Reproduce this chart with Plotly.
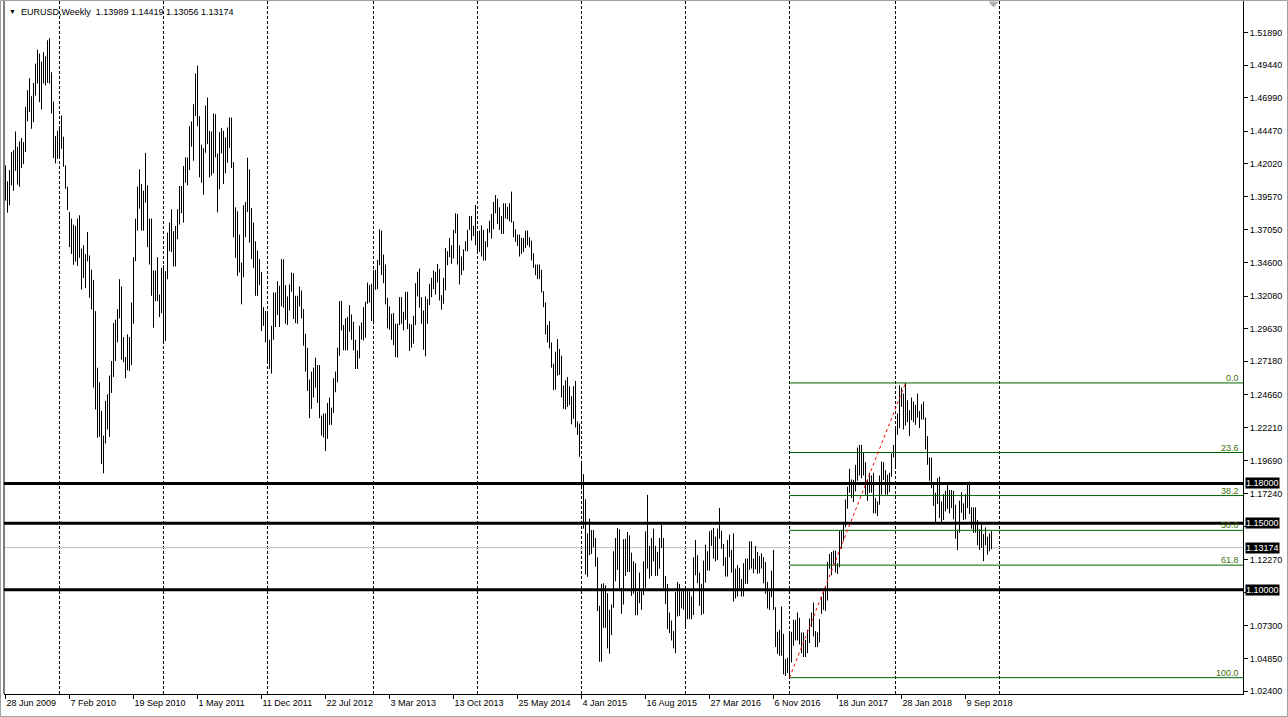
import plotly.graph_objects as go
import pandas as pd

# ---------------- data (weekly bars) ----------------
symbol_title = "EURUSD,Weekly"
last_bar_text = ["1.13989", "1.14419", "1.13056", "1.13174"]
first_week = "2009-06-28"

# (open, high, low, close) per week
ohlc_2009 = [
    (1.4035, 1.4190, 1.3925, 1.3960), (1.3960, 1.4070, 1.3835, 1.3940), (1.3940, 1.4155, 1.3890, 1.4135),
    (1.4135, 1.4290, 1.4040, 1.4180), (1.4180, 1.4305, 1.4000, 1.4255), (1.4255, 1.4445, 1.4150, 1.4185),
    (1.4185, 1.4330, 1.4045, 1.4200), (1.4200, 1.4370, 1.4030, 1.4320), (1.4320, 1.4395, 1.4170, 1.4290),
    (1.4290, 1.4365, 1.4200, 1.4345), (1.4345, 1.4630, 1.4290, 1.4610), (1.4610, 1.4755, 1.4520, 1.4705),
    (1.4705, 1.4845, 1.4590, 1.4690), (1.4690, 1.4710, 1.4465, 1.4595), (1.4595, 1.4810, 1.4515, 1.4720),
    (1.4720, 1.4955, 1.4715, 1.4905), (1.4905, 1.5060, 1.4805, 1.5005), (1.5005, 1.5030, 1.4665, 1.4715),
    (1.4715, 1.4970, 1.4610, 1.4915), (1.4915, 1.5040, 1.4805, 1.4885), (1.4885, 1.5010, 1.4790, 1.4955),
    (1.4955, 1.5130, 1.4810, 1.4975), (1.4975, 1.5145, 1.4805, 1.4850), (1.4850, 1.4890, 1.4580, 1.4620),
    (1.4620, 1.4670, 1.4245, 1.4340), (1.4340, 1.4410, 1.4205, 1.4330), (1.4330, 1.4450, 1.4240, 1.4320),
]
ohlc_2010 = [
    (1.4320, 1.4485, 1.4255, 1.4410), (1.4410, 1.4565, 1.4315, 1.4380), (1.4380, 1.4405, 1.4180, 1.4190),
    (1.4190, 1.4190, 1.4015, 1.4030), (1.4030, 1.4030, 1.3855, 1.3865), (1.3830, 1.3840, 1.3575, 1.3675),
    (1.3675, 1.3790, 1.3525, 1.3620), (1.3620, 1.3745, 1.3443, 1.3615), (1.3615, 1.3735, 1.3468, 1.3630),
    (1.3630, 1.3790, 1.3435, 1.3760), (1.3760, 1.3815, 1.3495, 1.3530), (1.3530, 1.3565, 1.3257, 1.3410),
    (1.3410, 1.3590, 1.3343, 1.3480), (1.3480, 1.3523, 1.3268, 1.3480), (1.3480, 1.3690, 1.3468, 1.3500),
    (1.3500, 1.3513, 1.3195, 1.3390), (1.3390, 1.3406, 1.3106, 1.3295), (1.3295, 1.3330, 1.2520, 1.2755),
    (1.2755, 1.3095, 1.2355, 1.2360), (1.2360, 1.2670, 1.2143, 1.2560), (1.2560, 1.2560, 1.2150, 1.2270),
    (1.2270, 1.2345, 1.1945, 1.1970), (1.1970, 1.2160, 1.1876, 1.2105), (1.2105, 1.2420, 1.2100, 1.2390),
    (1.2390, 1.2470, 1.2205, 1.2360), (1.2360, 1.2610, 1.2150, 1.2560), (1.2560, 1.2720, 1.2480, 1.2640),
    (1.2640, 1.3005, 1.2600, 1.2940), (1.2940, 1.3030, 1.2720, 1.2900), (1.2900, 1.3110, 1.2860, 1.3060),
    (1.3060, 1.3335, 1.3040, 1.3275), (1.3275, 1.3280, 1.2730, 1.2750), (1.2750, 1.2900, 1.2710, 1.2710),
    (1.2710, 1.2750, 1.2590, 1.2750), (1.2750, 1.2920, 1.2650, 1.2890), (1.2890, 1.2900, 1.2645, 1.2710),
    (1.2710, 1.3160, 1.2690, 1.3050), (1.3050, 1.3500, 1.3000, 1.3490), (1.3490, 1.3790, 1.3470, 1.3780),
    (1.3780, 1.4030, 1.3700, 1.3995), (1.3995, 1.4160, 1.3865, 1.3970), (1.3970, 1.4050, 1.3700, 1.3950),
    (1.3950, 1.4000, 1.3700, 1.3935), (1.3935, 1.4283, 1.3910, 1.4030), (1.4030, 1.4040, 1.3575, 1.3690),
    (1.3690, 1.3790, 1.3445, 1.3670), (1.3670, 1.3790, 1.3210, 1.3240), (1.3240, 1.3400, 1.2970, 1.3400),
    (1.3400, 1.3400, 1.3170, 1.3225), (1.3225, 1.3500, 1.3170, 1.3185), (1.3185, 1.3220, 1.3050, 1.3090),
    (1.3090, 1.3420, 1.3080, 1.3380),
]
ohlc_2011 = [
    (1.3380, 1.3440, 1.2860, 1.2905), (1.2905, 1.3395, 1.2870, 1.3380), (1.3380, 1.3685, 1.3335, 1.3615),
    (1.3615, 1.3760, 1.3545, 1.3600), (1.3600, 1.3860, 1.3540, 1.3585), (1.3585, 1.3695, 1.3430, 1.3525),
    (1.3525, 1.3735, 1.3430, 1.3695), (1.3695, 1.3860, 1.3635, 1.3755), (1.3755, 1.4035, 1.3745, 1.3985),
    (1.3985, 1.4035, 1.3830, 1.3905), (1.3905, 1.4185, 1.3760, 1.4180), (1.4180, 1.4250, 1.4060, 1.4090),
    (1.4090, 1.4250, 1.4040, 1.4225), (1.4225, 1.4485, 1.4155, 1.4480), (1.4480, 1.4520, 1.4330, 1.4430),
    (1.4430, 1.4650, 1.4225, 1.4565), (1.4565, 1.4880, 1.4560, 1.4815), (1.4815, 1.4940, 1.4485, 1.4525),
    (1.4525, 1.4560, 1.4100, 1.4115), (1.4115, 1.4345, 1.4060, 1.4150), (1.4150, 1.4320, 1.3970, 1.4315),
    (1.4315, 1.4640, 1.4285, 1.4640), (1.4640, 1.4700, 1.4350, 1.4350), (1.4350, 1.4450, 1.4100, 1.4300),
    (1.4300, 1.4445, 1.4115, 1.4185), (1.4185, 1.4580, 1.4130, 1.4530), (1.4530, 1.4575, 1.4250, 1.4260),
    (1.4260, 1.4280, 1.3837, 1.4145), (1.4145, 1.4440, 1.4010, 1.4390), (1.4390, 1.4470, 1.4280, 1.4390),
    (1.4390, 1.4450, 1.4050, 1.4270), (1.4270, 1.4400, 1.4130, 1.4240), (1.4240, 1.4475, 1.4210, 1.4400),
    (1.4400, 1.4550, 1.4320, 1.4490), (1.4490, 1.4550, 1.4170, 1.4210), (1.4210, 1.4215, 1.3650, 1.3655),
    (1.3655, 1.3875, 1.3495, 1.3790), (1.3790, 1.3845, 1.3360, 1.3500), (1.3500, 1.3670, 1.3385, 1.3385),
    (1.3385, 1.3460, 1.3146, 1.3380), (1.3380, 1.3890, 1.3350, 1.3880), (1.3880, 1.3915, 1.3650, 1.3890),
    (1.3890, 1.4248, 1.3840, 1.4145), (1.4145, 1.4160, 1.3610, 1.3775), (1.3775, 1.3870, 1.3485, 1.3750),
    (1.3750, 1.3760, 1.3420, 1.3525), (1.3525, 1.3620, 1.3210, 1.3240), (1.3240, 1.3550, 1.3210, 1.3440),
    (1.3440, 1.3485, 1.3290, 1.3380), (1.3380, 1.3390, 1.2945, 1.3045), (1.3045, 1.3125, 1.2985, 1.3055),
    (1.3055, 1.3095, 1.2860, 1.2960),
]
ohlc_2012 = [
    (1.2960, 1.3080, 1.2720, 1.2720), (1.2720, 1.2880, 1.2660, 1.2680), (1.2680, 1.2985, 1.2625, 1.2935),
    (1.2935, 1.3235, 1.2880, 1.3210), (1.3210, 1.3235, 1.2975, 1.3155), (1.3155, 1.3320, 1.3065, 1.3195),
    (1.3195, 1.3285, 1.2975, 1.3135), (1.3135, 1.3485, 1.3130, 1.3450), (1.3450, 1.3485, 1.3120, 1.3205),
    (1.3205, 1.3290, 1.3000, 1.3120), (1.3120, 1.3205, 1.2990, 1.3180), (1.3180, 1.3295, 1.3100, 1.3275),
    (1.3275, 1.3385, 1.3240, 1.3340), (1.3340, 1.3380, 1.3035, 1.3140), (1.3140, 1.3210, 1.3005, 1.3075),
    (1.3075, 1.3210, 1.3000, 1.3185), (1.3185, 1.3280, 1.3130, 1.3240), (1.3240, 1.3250, 1.3040, 1.3085),
    (1.3085, 1.3110, 1.2835, 1.2915), (1.2915, 1.2925, 1.2640, 1.2780), (1.2780, 1.2820, 1.2495, 1.2510),
    (1.2510, 1.2580, 1.2290, 1.2420), (1.2420, 1.2640, 1.2360, 1.2635), (1.2635, 1.2670, 1.2445, 1.2640),
    (1.2640, 1.2745, 1.2520, 1.2570), (1.2570, 1.2690, 1.2405, 1.2665), (1.2665, 1.2690, 1.2290, 1.2290),
    (1.2290, 1.2310, 1.2160, 1.2245), (1.2245, 1.2325, 1.2145, 1.2155), (1.2155, 1.2325, 1.2042, 1.2320),
    (1.2320, 1.2405, 1.2135, 1.2385), (1.2385, 1.2445, 1.2240, 1.2290), (1.2290, 1.2370, 1.2240, 1.2335),
    (1.2335, 1.2590, 1.2330, 1.2515), (1.2515, 1.2640, 1.2485, 1.2575), (1.2575, 1.2820, 1.2560, 1.2810),
    (1.2810, 1.3170, 1.2760, 1.3125), (1.3125, 1.3172, 1.2950, 1.2975), (1.2975, 1.2990, 1.2800, 1.2860),
    (1.2860, 1.3040, 1.2800, 1.3035), (1.3035, 1.3050, 1.2800, 1.2950), (1.2950, 1.3140, 1.2940, 1.3020),
    (1.3020, 1.3070, 1.2880, 1.2940), (1.2940, 1.3015, 1.2800, 1.2830), (1.2830, 1.2880, 1.2660, 1.2710),
    (1.2710, 1.2800, 1.2660, 1.2750), (1.2750, 1.2985, 1.2740, 1.2975), (1.2975, 1.3010, 1.2880, 1.2985),
    (1.2985, 1.3125, 1.2875, 1.2925), (1.2925, 1.3165, 1.2895, 1.3165), (1.3165, 1.3310, 1.3150, 1.3190),
    (1.3190, 1.3290, 1.3160, 1.3195), (1.3195, 1.3300, 1.3020, 1.3070),
]
ohlc_2013 = [
    (1.3070, 1.3405, 1.2995, 1.3365), (1.3365, 1.3405, 1.3255, 1.3315), (1.3315, 1.3480, 1.3260, 1.3460),
    (1.3460, 1.3710, 1.3440, 1.3640), (1.3640, 1.3700, 1.3365, 1.3365), (1.3365, 1.3520, 1.3305, 1.3360),
    (1.3360, 1.3445, 1.3145, 1.3190), (1.3190, 1.3195, 1.2965, 1.3020), (1.3020, 1.3130, 1.2955, 1.3005),
    (1.3005, 1.3075, 1.2880, 1.3075), (1.3075, 1.3080, 1.2840, 1.2990), (1.2990, 1.3000, 1.2750, 1.2820),
    (1.2820, 1.3000, 1.2745, 1.2995), (1.2995, 1.3200, 1.2990, 1.3110), (1.3110, 1.3200, 1.3000, 1.3050),
    (1.3050, 1.3090, 1.2950, 1.3030), (1.3030, 1.3240, 1.3030, 1.3115), (1.3115, 1.3240, 1.2960, 1.2990),
    (1.2990, 1.3000, 1.2795, 1.2835), (1.2835, 1.2995, 1.2820, 1.2935), (1.2935, 1.3060, 1.2850, 1.2995),
    (1.2995, 1.3305, 1.2990, 1.3220), (1.3220, 1.3390, 1.3205, 1.3345), (1.3345, 1.3415, 1.3120, 1.3120),
    (1.3120, 1.3200, 1.3000, 1.3010), (1.3010, 1.3100, 1.2805, 1.2830), (1.2830, 1.3205, 1.2755, 1.3065),
    (1.3065, 1.3185, 1.3000, 1.3145), (1.3145, 1.3300, 1.3140, 1.3280), (1.3280, 1.3345, 1.3200, 1.3280),
    (1.3280, 1.3400, 1.3260, 1.3340), (1.3340, 1.3390, 1.3220, 1.3330), (1.3330, 1.3450, 1.3310, 1.3380),
    (1.3380, 1.3410, 1.3175, 1.3205), (1.3205, 1.3215, 1.3105, 1.3170), (1.3170, 1.3345, 1.3150, 1.3300),
    (1.3300, 1.3570, 1.3250, 1.3525), (1.3525, 1.3545, 1.3440, 1.3525), (1.3525, 1.3645, 1.3500, 1.3555),
    (1.3555, 1.3590, 1.3450, 1.3550), (1.3550, 1.3705, 1.3490, 1.3685), (1.3685, 1.3830, 1.3680, 1.3800),
    (1.3800, 1.3825, 1.3445, 1.3485), (1.3485, 1.3590, 1.3295, 1.3365), (1.3365, 1.3505, 1.3365, 1.3495),
    (1.3495, 1.3560, 1.3400, 1.3555), (1.3555, 1.3620, 1.3545, 1.3590), (1.3590, 1.3705, 1.3545, 1.3705),
    (1.3705, 1.3810, 1.3705, 1.3745), (1.3745, 1.3810, 1.3625, 1.3675), (1.3675, 1.3735, 1.3660, 1.3690),
    (1.3690, 1.3893, 1.3590, 1.3590),
]
ohlc_2014 = [
    (1.3590, 1.3690, 1.3525, 1.3670), (1.3670, 1.3700, 1.3540, 1.3540), (1.3540, 1.3740, 1.3505, 1.3680),
    (1.3680, 1.3705, 1.3475, 1.3485), (1.3485, 1.3620, 1.3475, 1.3610), (1.3610, 1.3715, 1.3575, 1.3695),
    (1.3695, 1.3775, 1.3685, 1.3740), (1.3740, 1.3825, 1.3640, 1.3805), (1.3805, 1.3915, 1.3710, 1.3875),
    (1.3875, 1.3967, 1.3830, 1.3910), (1.3910, 1.3940, 1.3750, 1.3790), (1.3790, 1.3875, 1.3705, 1.3750),
    (1.3750, 1.3810, 1.3675, 1.3705), (1.3705, 1.3905, 1.3675, 1.3885), (1.3885, 1.3905, 1.3790, 1.3815),
    (1.3815, 1.3880, 1.3785, 1.3830), (1.3830, 1.3905, 1.3770, 1.3870), (1.3870, 1.3993, 1.3760, 1.3760),
    (1.3760, 1.3770, 1.3650, 1.3695), (1.3695, 1.3710, 1.3615, 1.3630), (1.3630, 1.3670, 1.3585, 1.3635),
    (1.3635, 1.3670, 1.3505, 1.3640), (1.3640, 1.3645, 1.3525, 1.3545), (1.3545, 1.3645, 1.3540, 1.3610),
    (1.3610, 1.3700, 1.3570, 1.3645), (1.3645, 1.3700, 1.3590, 1.3595), (1.3595, 1.3650, 1.3575, 1.3605),
    (1.3605, 1.3625, 1.3475, 1.3525), (1.3525, 1.3530, 1.3420, 1.3430), (1.3430, 1.3445, 1.3365, 1.3415),
    (1.3415, 1.3445, 1.3335, 1.3410), (1.3410, 1.3445, 1.3335, 1.3400), (1.3400, 1.3405, 1.3235, 1.3240),
    (1.3240, 1.3245, 1.3125, 1.3130), (1.3130, 1.3160, 1.2920, 1.2950), (1.2950, 1.2990, 1.2860, 1.2965),
    (1.2965, 1.3020, 1.2815, 1.2830), (1.2830, 1.2860, 1.2670, 1.2685), (1.2685, 1.2700, 1.2500, 1.2515),
    (1.2515, 1.2790, 1.2505, 1.2625), (1.2625, 1.2885, 1.2610, 1.2760), (1.2760, 1.2810, 1.2615, 1.2670),
    (1.2670, 1.2760, 1.2445, 1.2525), (1.2525, 1.2535, 1.2360, 1.2450), (1.2450, 1.2575, 1.2355, 1.2525),
    (1.2525, 1.2600, 1.2375, 1.2390), (1.2390, 1.2530, 1.2390, 1.2450), (1.2450, 1.2455, 1.2245, 1.2285),
    (1.2285, 1.2530, 1.2285, 1.2465), (1.2465, 1.2570, 1.2220, 1.2230), (1.2230, 1.2265, 1.2165, 1.2175),
    (1.2175, 1.2250, 1.2000, 1.2000),
]
ohlc_2015 = [
    (1.1955, 1.1970, 1.1755, 1.1840), (1.1840, 1.1870, 1.1460, 1.1565), (1.1565, 1.1680, 1.1115, 1.1205),
    (1.1205, 1.1425, 1.1098, 1.1290), (1.1290, 1.1535, 1.1260, 1.1315), (1.1315, 1.1450, 1.1270, 1.1385),
    (1.1385, 1.1450, 1.1320, 1.1380), (1.1380, 1.1390, 1.1175, 1.1195), (1.1195, 1.1245, 1.0840, 1.0840),
    (1.0840, 1.0880, 1.0460, 1.0495), (1.0495, 1.1045, 1.0460, 1.0825), (1.0825, 1.1050, 1.0715, 1.0890),
    (1.0890, 1.1035, 1.0715, 1.0970), (1.0970, 1.0975, 1.0560, 1.0600), (1.0600, 1.0850, 1.0520, 1.0805),
    (1.0805, 1.0890, 1.0660, 1.0870), (1.0870, 1.1290, 1.0865, 1.1200), (1.1200, 1.1390, 1.1065, 1.1200),
    (1.1200, 1.1465, 1.1150, 1.1450), (1.1450, 1.1455, 1.1010, 1.1010), (1.1010, 1.1015, 1.0820, 1.0985),
    (1.0985, 1.1380, 1.0890, 1.1110), (1.1110, 1.1385, 1.1105, 1.1265), (1.1265, 1.1435, 1.1135, 1.1350),
    (1.1350, 1.1410, 1.1135, 1.1165), (1.1165, 1.1280, 1.0955, 1.1110), (1.1110, 1.1215, 1.0970, 1.1165),
    (1.1165, 1.1200, 1.0810, 1.0830), (1.0830, 1.0985, 1.0810, 1.0980), (1.0980, 1.1130, 1.0900, 1.0985),
    (1.0985, 1.0990, 1.0850, 1.0970), (1.0970, 1.1215, 1.0960, 1.1105), (1.1105, 1.1440, 1.1015, 1.1385),
    (1.1385, 1.1714, 1.1160, 1.1185), (1.1185, 1.1330, 1.1085, 1.1150), (1.1150, 1.1390, 1.1105, 1.1340),
    (1.1340, 1.1460, 1.1215, 1.1295), (1.1295, 1.1330, 1.1105, 1.1195), (1.1195, 1.1285, 1.1105, 1.1210),
    (1.1210, 1.1390, 1.1160, 1.1355), (1.1355, 1.1495, 1.1315, 1.1350), (1.1350, 1.1390, 1.1015, 1.1015),
    (1.1015, 1.1105, 1.0895, 1.1005), (1.1005, 1.1045, 1.0705, 1.0740), (1.0740, 1.0830, 1.0675, 1.0770),
    (1.0770, 1.0770, 1.0620, 1.0645), (1.0645, 1.0690, 1.0560, 1.0595), (1.0595, 1.0985, 1.0524, 1.0885),
    (1.0885, 1.1060, 1.0800, 1.0990), (1.0990, 1.1045, 1.0805, 1.0865), (1.0865, 1.0990, 1.0860, 1.0965),
    (1.0965, 1.0995, 1.0850, 1.0865),
]
ohlc_2016 = [
    (1.0865, 1.0970, 1.0710, 1.0920), (1.0920, 1.0990, 1.0780, 1.0915), (1.0915, 1.0990, 1.0780, 1.0795),
    (1.0795, 1.0950, 1.0780, 1.0830), (1.0830, 1.1245, 1.0810, 1.1155), (1.1155, 1.1375, 1.1110, 1.1255),
    (1.1255, 1.1260, 1.1050, 1.1130), (1.1130, 1.1130, 1.0880, 1.0935), (1.0935, 1.1045, 1.0810, 1.1005),
    (1.1005, 1.1220, 1.0820, 1.1145), (1.1145, 1.1340, 1.1055, 1.1265), (1.1265, 1.1290, 1.1145, 1.1165),
    (1.1165, 1.1440, 1.1145, 1.1390), (1.1390, 1.1450, 1.1330, 1.1400), (1.1400, 1.1465, 1.1235, 1.1285),
    (1.1285, 1.1400, 1.1215, 1.1225), (1.1225, 1.1460, 1.1225, 1.1455), (1.1455, 1.1616, 1.1385, 1.1400),
    (1.1400, 1.1445, 1.1310, 1.1310), (1.1310, 1.1345, 1.1180, 1.1225), (1.1225, 1.1245, 1.1100, 1.1130),
    (1.1130, 1.1375, 1.1100, 1.1365), (1.1365, 1.1415, 1.1245, 1.1250), (1.1250, 1.1300, 1.1130, 1.1275),
    (1.1275, 1.1425, 1.0912, 1.1120), (1.1120, 1.1160, 1.0935, 1.1140), (1.1140, 1.1185, 1.0950, 1.1055),
    (1.1055, 1.1165, 1.1010, 1.1040), (1.1040, 1.1080, 1.0950, 1.0975), (1.0975, 1.1200, 1.0950, 1.1175),
    (1.1175, 1.1235, 1.1045, 1.1085), (1.1085, 1.1235, 1.1045, 1.1160), (1.1160, 1.1365, 1.1150, 1.1325),
    (1.1325, 1.1365, 1.1160, 1.1200), (1.1200, 1.1235, 1.1125, 1.1155), (1.1155, 1.1330, 1.1155, 1.1235),
    (1.1235, 1.1285, 1.1120, 1.1155), (1.1155, 1.1255, 1.1125, 1.1225), (1.1225, 1.1275, 1.1160, 1.1240),
    (1.1240, 1.1245, 1.1050, 1.1200), (1.1200, 1.1210, 1.0970, 1.0970), (1.0970, 1.1060, 1.0860, 1.0880),
    (1.0880, 1.0990, 1.0850, 1.0985), (1.0985, 1.1145, 1.0945, 1.1140), (1.1140, 1.1300, 1.0850, 1.0850),
    (1.0850, 1.0870, 1.0570, 1.0590), (1.0590, 1.0685, 1.0520, 1.0590), (1.0590, 1.0700, 1.0505, 1.0665),
    (1.0665, 1.0875, 1.0505, 1.0560), (1.0560, 1.0670, 1.0365, 1.0450), (1.0450, 1.0480, 1.0352, 1.0455),
    (1.0455, 1.0490, 1.0375, 1.0465),
]
ohlc_2017 = [
    (1.0465, 1.0685, 1.0340, 1.0530), (1.0530, 1.0685, 1.0455, 1.0645), (1.0645, 1.0775, 1.0580, 1.0700),
    (1.0700, 1.0775, 1.0620, 1.0695), (1.0695, 1.0830, 1.0620, 1.0785), (1.0785, 1.0790, 1.0590, 1.0640),
    (1.0640, 1.0680, 1.0525, 1.0615), (1.0615, 1.0680, 1.0495, 1.0560), (1.0560, 1.0625, 1.0495, 1.0620),
    (1.0620, 1.0700, 1.0525, 1.0670), (1.0670, 1.0785, 1.0600, 1.0740), (1.0740, 1.0830, 1.0720, 1.0800),
    (1.0800, 1.0905, 1.0650, 1.0650), (1.0650, 1.0690, 1.0570, 1.0595), (1.0595, 1.0680, 1.0570, 1.0615),
    (1.0615, 1.0780, 1.0605, 1.0725), (1.0860, 1.0950, 1.0820, 1.0895), (1.0895, 1.1000, 1.0850, 1.0995),
    (1.0995, 1.1020, 1.0840, 1.0930), (1.0930, 1.1210, 1.0920, 1.1205), (1.1205, 1.1270, 1.1160, 1.1180),
    (1.1180, 1.1285, 1.1110, 1.1280), (1.1280, 1.1295, 1.1195, 1.1195), (1.1195, 1.1295, 1.1130, 1.1195),
    (1.1195, 1.1200, 1.1120, 1.1195), (1.1195, 1.1445, 1.1170, 1.1425), (1.1425, 1.1450, 1.1310, 1.1400),
    (1.1400, 1.1490, 1.1370, 1.1470), (1.1470, 1.1680, 1.1470, 1.1665), (1.1665, 1.1775, 1.1610, 1.1750),
    (1.1750, 1.1910, 1.1730, 1.1775), (1.1775, 1.1830, 1.1690, 1.1820), (1.1820, 1.1825, 1.1660, 1.1760),
    (1.1760, 1.1940, 1.1740, 1.1925), (1.1925, 1.2070, 1.1820, 1.1860), (1.1860, 1.2090, 1.1860, 1.2035),
    (1.2035, 1.2090, 1.1840, 1.1940), (1.1940, 1.2035, 1.1860, 1.1950), (1.1950, 1.1960, 1.1715, 1.1815),
    (1.1815, 1.1830, 1.1670, 1.1730), (1.1730, 1.1880, 1.1730, 1.1820), (1.1820, 1.1860, 1.1730, 1.1785),
    (1.1785, 1.1880, 1.1575, 1.1605), (1.1605, 1.1690, 1.1575, 1.1610), (1.1610, 1.1665, 1.1555, 1.1665),
    (1.1665, 1.1860, 1.1640, 1.1795), (1.1795, 1.1965, 1.1715, 1.1930), (1.1930, 1.1960, 1.1825, 1.1895),
    (1.1895, 1.1900, 1.1715, 1.1775), (1.1775, 1.1865, 1.1715, 1.1750), (1.1750, 1.1880, 1.1735, 1.1865),
    (1.1865, 1.2025, 1.1850, 1.2005), (1.2005, 1.2090, 1.1995, 1.2030),
]
ohlc_2018 = [
    (1.2030, 1.2215, 1.1915, 1.2200), (1.2200, 1.2325, 1.2165, 1.2220), (1.2220, 1.2537, 1.2215, 1.2425),
    (1.2425, 1.2520, 1.2375, 1.2460), (1.2460, 1.2475, 1.2205, 1.2250), (1.2250, 1.2555, 1.2235, 1.2405),
    (1.2405, 1.2425, 1.2260, 1.2295), (1.2295, 1.2350, 1.2155, 1.2315), (1.2315, 1.2445, 1.2275, 1.2310),
    (1.2310, 1.2415, 1.2260, 1.2285), (1.2285, 1.2390, 1.2240, 1.2355), (1.2355, 1.2475, 1.2295, 1.2320),
    (1.2320, 1.2345, 1.2215, 1.2280), (1.2280, 1.2395, 1.2280, 1.2330), (1.2330, 1.2415, 1.2280, 1.2290),
    (1.2290, 1.2295, 1.2055, 1.2130), (1.2130, 1.2155, 1.1940, 1.1960), (1.1960, 1.1995, 1.1820, 1.1940),
    (1.1940, 1.1995, 1.1765, 1.1770), (1.1770, 1.1790, 1.1630, 1.1655), (1.1655, 1.1730, 1.1510, 1.1660),
    (1.1660, 1.1840, 1.1645, 1.1770), (1.1770, 1.1850, 1.1540, 1.1610), (1.1610, 1.1665, 1.1510, 1.1655),
    (1.1655, 1.1720, 1.1525, 1.1685), (1.1685, 1.1745, 1.1590, 1.1745), (1.1745, 1.1790, 1.1610, 1.1685),
    (1.1685, 1.1750, 1.1575, 1.1720), (1.1720, 1.1750, 1.1615, 1.1655), (1.1655, 1.1745, 1.1530, 1.1565),
    (1.1565, 1.1640, 1.1385, 1.1410), (1.1410, 1.1445, 1.1300, 1.1440), (1.1440, 1.1670, 1.1430, 1.1620),
    (1.1620, 1.1735, 1.1580, 1.1600), (1.1600, 1.1650, 1.1525, 1.1550), (1.1550, 1.1720, 1.1530, 1.1625),
    (1.1625, 1.1790, 1.1615, 1.1745), (1.1745, 1.1815, 1.1570, 1.1605), (1.1605, 1.1620, 1.1460, 1.1525),
    (1.1525, 1.1620, 1.1430, 1.1560), (1.1560, 1.1620, 1.1430, 1.1510), (1.1510, 1.1525, 1.1335, 1.1400),
    (1.1400, 1.1455, 1.1300, 1.1390), (1.1390, 1.1500, 1.1315, 1.1335), (1.1335, 1.1420, 1.1216, 1.1415),
    (1.1415, 1.1470, 1.1335, 1.1340), (1.1340, 1.1400, 1.1265, 1.1315), (1.1315, 1.1425, 1.1290, 1.1380),
    (1.13989, 1.14419, 1.13056, 1.13174),
]

x_tick_labels = ["28 Jun 2009", "7 Feb 2010", "19 Sep 2010", "1 May 2011", "11 Dec 2011", "22 Jul 2012",
                 "3 Mar 2013", "13 Oct 2013", "25 May 2014", "4 Jan 2015", "16 Aug 2015", "27 Mar 2016",
                 "6 Nov 2016", "18 Jun 2017", "28 Jan 2018", "9 Sep 2018"]
year_starts = ["2010-01-03", "2011-01-02", "2012-01-01", "2013-01-06", "2014-01-05", "2015-01-04",
               "2016-01-03", "2017-01-01", "2018-01-07", "2019-01-06"]
y_tick_values = [1.51890, 1.49440, 1.46990, 1.44470, 1.42020, 1.39570, 1.37050, 1.34600, 1.32080,
                 1.29630, 1.27180, 1.24660, 1.22210, 1.19690, 1.17240, 1.14790, 1.12270, 1.09820,
                 1.07300, 1.04850, 1.02400]
# tick labels hidden behind the level boxes on the price scale
y_ticks_covered = [1.14790, 1.09820]
horizontal_levels = [1.18000, 1.15000, 1.10000]
current_price = 1.13174
fib_low_date, fib_low = "2017-01-01", 1.0340
fib_high_date, fib_high = "2018-02-11", 1.2555
fib_ratios = [0.0, 0.236, 0.382, 0.5, 0.618, 1.0]
fib_texts = ["0.0", "23.6", "38.2", "50.0", "61.8", "100.0"]

# ---------------- figure ----------------
rows = (ohlc_2009 + ohlc_2010 + ohlc_2011 + ohlc_2012 + ohlc_2013 + ohlc_2014 +
        ohlc_2015 + ohlc_2016 + ohlc_2017 + ohlc_2018)
dates = pd.date_range(first_week, periods=len(rows), freq="7D")

W, H = 1288, 717
ML, MR, MT, MB = 4, 45, 0, 23
PW, PH = W - ML - MR, H - MT - MB

t0 = pd.Timestamp(first_week) - pd.Timedelta(hours=126)      # 1.5 px before first bar
t1 = t0 + pd.Timedelta(hours=84 * PW)                          # 3.5 days per px
x_range = [str(t0), str(t1)]
y_range = [1.02175, 1.54329]

FONT = "Tahoma, 'Liberation Sans', Arial, sans-serif"


def px_x(p):
    return (p - ML) / PW


def px_y(p):
    return (H - MB - p) / PH


fig = go.Figure()
fig.add_trace(go.Ohlc(
    x=dates,
    open=[r[0] for r in rows], high=[r[1] for r in rows],
    low=[r[2] for r in rows], close=[r[3] for r in rows],
    increasing=dict(line=dict(color="black", width=1)),
    decreasing=dict(line=dict(color="black", width=1)),
    tickwidth=0, hoverinfo="skip", showlegend=False,
))

shapes = []
for d in year_starts:
    shapes.append(dict(type="line", xref="x", yref="paper", x0=d, x1=d, y0=0, y1=1,
                       line=dict(color="black", width=1, dash="3px,2px"), layer="below"))
shapes.append(dict(type="line", xref="paper", yref="y", x0=0, x1=1, y0=current_price, y1=current_price,
                   line=dict(color="#C0C0C0", width=1), layer="below"))
for lv in horizontal_levels:
    shapes.append(dict(type="line", xref="paper", yref="y", x0=0, x1=1, y0=lv, y1=lv,
                       line=dict(color="black", width=3), layer="above"))
fib_span = fib_high - fib_low
for r in fib_ratios:
    lv = fib_high - r * fib_span
    shapes.append(dict(type="line", xref="x", yref="y", x0=fib_low_date, x1=x_range[1], y0=lv, y1=lv,
                       line=dict(color="#006400", width=1), layer="above"))
shapes.append(dict(type="line", xref="x", yref="y", x0=fib_low_date, x1=fib_high_date,
                   y0=fib_low, y1=fib_high, line=dict(color="red", width=1, dash="3px,3px"), layer="above"))
# chart frame pieces
shapes.append(dict(type="line", xref="paper", yref="paper", x0=0, x1=0, y0=0, y1=1,
                   line=dict(color="black", width=1)))
shapes.append(dict(type="rect", xref="paper", yref="paper",
                   x0=px_x(0.5), x1=px_x(1287.5), y0=px_y(716.5), y1=px_y(0.5),
                   line=dict(color="#A0A0A0", width=1)))
shapes.append(dict(type="path", xref="paper", yref="paper",
                   path=f"M {px_x(989)},{px_y(2)} L {px_x(998)},{px_y(2)} L {px_x(993.5)},{px_y(7)} Z",
                   fillcolor="#B0B0B0", line=dict(color="#B0B0B0", width=1)))

annotations = []
annotations.append(dict(xref="paper", yref="paper", x=px_x(7), y=px_y(12), xanchor="left", yanchor="middle",
                        text="▼", showarrow=False, font=dict(family=FONT, size=7, color="black")))
annotations.append(dict(xref="paper", yref="paper", x=px_x(19), y=px_y(12), xanchor="left", yanchor="middle",
                        text=symbol_title + "  " + " ".join(last_bar_text), showarrow=False,
                        font=dict(family=FONT, size=9, color="black")))
for r, t in zip(fib_ratios, fib_texts):
    lv = fib_high - r * fib_span
    annotations.append(dict(xref="paper", yref="y", x=1, y=lv, xanchor="right", yanchor="bottom",
                            xshift=-2, yshift=-2, text=t, showarrow=False,
                            font=dict(family=FONT, size=9, color="#3f6e0a")))
for lv in horizontal_levels + [current_price]:
    annotations.append(dict(xref="paper", yref="y", x=1, y=lv, xanchor="left", yanchor="middle",
                            xshift=2, text=f"{lv:.5f}", showarrow=False, bgcolor="black", borderpad=0,
                            font=dict(family=FONT, size=9, color="white")))

fig.update_layout(
    width=W, height=H,
    margin=dict(l=ML, r=MR, t=MT, b=MB, pad=0, autoexpand=False),
    paper_bgcolor="white", plot_bgcolor="white",
    showlegend=False,
    shapes=shapes, annotations=annotations,
    xaxis=dict(type="date", range=x_range, rangeslider=dict(visible=False),
               tickvals=list(dates[::32][:len(x_tick_labels)]), ticktext=x_tick_labels,
               ticks="outside", ticklen=4, tickcolor="black", tickwidth=1,
               ticklabelposition="outside right", automargin=False,
               showline=True, linecolor="black", linewidth=1, showgrid=False, zeroline=False,
               tickfont=dict(family=FONT, size=9, color="black"), fixedrange=True),
    yaxis=dict(side="right", range=y_range, tickvals=y_tick_values,
               ticktext=["" if v in y_ticks_covered else f"{v:.5f}" for v in y_tick_values],
               ticks="outside", ticklen=4, tickcolor="black", tickwidth=1, automargin=False,
               showline=True, linecolor="black", linewidth=1, showgrid=False, zeroline=False,
               tickfont=dict(family=FONT, size=9, color="black"), fixedrange=True),
)

fig.write_html("out.html", config={"displayModeBar": False},
               post_script="document.body.style.margin='0';")
